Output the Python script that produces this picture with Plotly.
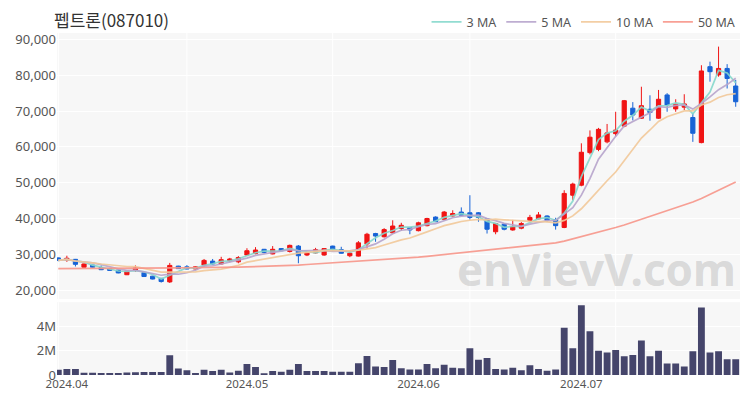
import plotly.graph_objects as go
import pandas as pd

title_text = "펩트론(087010)"

dates = [
    "2024-03-29",
    "2024-04-01", "2024-04-02", "2024-04-03", "2024-04-04", "2024-04-05", "2024-04-08", "2024-04-09",
    "2024-04-11", "2024-04-12", "2024-04-15", "2024-04-16", "2024-04-17", "2024-04-18", "2024-04-19",
    "2024-04-22", "2024-04-23", "2024-04-24", "2024-04-25", "2024-04-26", "2024-04-29", "2024-04-30",
    "2024-05-02", "2024-05-03", "2024-05-07", "2024-05-08", "2024-05-09", "2024-05-10", "2024-05-13",
    "2024-05-14", "2024-05-16", "2024-05-17", "2024-05-20", "2024-05-21", "2024-05-22", "2024-05-23",
    "2024-05-24", "2024-05-27", "2024-05-28", "2024-05-29", "2024-05-30", "2024-05-31",
    "2024-06-03", "2024-06-04", "2024-06-05", "2024-06-07", "2024-06-10", "2024-06-11", "2024-06-12",
    "2024-06-13", "2024-06-14", "2024-06-17", "2024-06-18", "2024-06-19", "2024-06-20", "2024-06-21",
    "2024-06-24", "2024-06-25", "2024-06-26", "2024-06-27", "2024-06-28",
    "2024-07-01", "2024-07-02", "2024-07-03", "2024-07-04", "2024-07-05", "2024-07-08", "2024-07-09",
    "2024-07-10", "2024-07-11", "2024-07-12", "2024-07-15", "2024-07-16", "2024-07-17", "2024-07-18",
    "2024-07-19", "2024-07-22", "2024-07-23", "2024-07-24", "2024-07-25",
]

opens = [29000, 28400, 28600, 26400, 27000, 26300, 26000, 25600, 24300, 25600,
         24900, 23900, 23300, 22300, 26700, 26500, 25900, 27000, 28100, 27300,
         28200, 27900, 29800, 30200, 31400, 30100, 31600, 30800, 32300, 29800,
         30400, 29800, 32300, 31300, 29600, 29500, 32900, 35800, 34900, 36000,
         37200, 37500, 36600, 38000, 40400, 39800, 40700, 41800, 41600, 41600,
         39900, 36300, 38400, 36800, 37300, 39500, 39900, 40700, 39700, 37500,
         46500, 49300, 58400, 59300, 61400, 63700, 65800, 70800, 68000, 70500,
         68000, 74500, 70600, 71100, 68200, 61200, 82400, 80100, 81900, 77000]
highs = [29100, 29600, 28700, 27400, 27100, 26900, 26100, 25700, 25400, 26900,
         25000, 24000, 23400, 27600, 26800, 27000, 26600, 28700, 28700, 29300,
         29000, 29500, 31700, 32000, 31500, 32300, 31700, 32700, 32600, 30700,
         31800, 31700, 32400, 32100, 31000, 33700, 36000, 36000, 37300, 39500,
         38800, 37600, 39100, 40200, 40600, 42100, 42300, 43100, 46500, 41800,
         40000, 38700, 38600, 39600, 39000, 41000, 41800, 40900, 40200, 47900,
         50000, 61000, 64600, 65300, 66400, 69800, 73100, 72500, 76800, 74400,
         75900, 75000, 73300, 74700, 69400, 82800, 83800, 88000, 83100, 78700]
lows = [28100, 27900, 26600, 26300, 26300, 25600, 25400, 24700, 24200, 25100,
        23700, 23000, 22100, 22000, 25900, 25800, 25800, 26600, 27200, 27200,
        27800, 27500, 29600, 30000, 30300, 30000, 30900, 30500, 27500, 29500,
        30200, 29600, 31100, 30200, 29200, 29400, 31600, 33500, 34700, 35900,
        36600, 35600, 36400, 37800, 39000, 39600, 40500, 40700, 39700, 39100,
        35800, 35600, 36700, 36600, 37000, 39000, 39800, 39000, 36900, 37300,
        45100, 49000, 57900, 58800, 61000, 63000, 65500, 67400, 67800, 67300,
        67800, 69800, 69800, 70300, 61400, 61000, 78200, 79600, 76300, 71200]
closes = [28300, 28900, 27200, 27300, 26400, 25700, 25500, 24800, 25300, 26200,
          23800, 23100, 22400, 26900, 26000, 25900, 26500, 28300, 27300, 28500,
          28700, 29100, 31000, 31200, 30500, 31400, 31000, 32500, 29600, 30400,
          31300, 31600, 31200, 30300, 30300, 33200, 35600, 35100, 36900, 37900,
          38100, 36800, 38800, 40000, 39100, 41800, 41400, 40900, 40300, 40300,
          37000, 38600, 37000, 37700, 38600, 40300, 41000, 39500, 38000, 47000,
          49600, 58500, 62700, 64900, 63900, 64700, 72900, 68900, 71500, 69600,
          73300, 71700, 71900, 72000, 63800, 81200, 81000, 81900, 79100, 72600]

volumes_m = [0.43, 0.49, 0.49, 0.18, 0.18, 0.16, 0.16, 0.16, 0.20, 0.22,
             0.24, 0.24, 0.24, 1.62, 0.54, 0.40, 0.16, 0.43, 0.32, 0.43,
             0.20, 0.35, 0.90, 0.65, 0.14, 0.32, 0.27, 0.43, 0.90, 0.32,
             0.32, 0.32, 0.27, 0.27, 0.27, 0.97, 1.57, 0.70, 0.65, 1.24,
             0.55, 0.45, 0.45, 0.90, 0.55, 0.85, 0.60, 0.55, 2.20, 1.25,
             1.40, 0.50, 0.45, 0.60, 0.40, 0.80, 0.50, 0.35, 0.45, 3.90,
             2.20, 5.75, 3.60, 2.00, 1.85, 2.05, 1.55, 1.65, 2.85, 1.55,
             2.00, 0.95, 0.95, 0.70, 1.95, 5.55, 1.85, 1.95, 1.30, 1.30]

ma50 = [26000, 26000, 26000, 26050, 26050, 26050, 26100, 26100, 26100, 26100,
        26100, 26150, 26150, 26200, 26200, 26250, 26250, 26300, 26300, 26350,
        26400, 26450, 26500, 26550, 26600, 26700, 26750, 26850, 27000, 27150,
        27300, 27450, 27600, 27700, 27850, 28000, 28150, 28350, 28500, 28700,
        28900, 29050, 29200, 29450, 29700, 29900, 30100, 30300, 30600, 30850,
        31100, 31300, 31550, 31800, 32000, 32300, 32550, 32800, 33200, 33700,
        34300, 34900, 35500, 36200, 36800, 37500, 38200, 39000, 39700, 40500,
        41300, 42100, 43000, 43800, 44600, 45600, 46700, 47800, 49000, 50200]

month_ticks = ["2024-04-01", "2024-05-02", "2024-06-03", "2024-07-01"]
month_labels = ["2024.04", "2024.05", "2024.06", "2024.07"]
grid_dates = ["2024-03-29", "2024-04-22", "2024-05-20", "2024-06-12", "2024-07-05"]
price_ticks = [20000, 30000, 40000, 50000, 60000, 70000, 80000, 90000]
vol_ticks = [0, 2e6, 4e6]
vol_labels = ["0", "2M", "4M"]

UP = "#f01414"
DOWN = "#1763d6"
VOL = "#45456b"
KFONT = "Noto Sans CJK KR"
LFONT = "Noto Sans"

cs = pd.Series(closes)
ma3 = cs.rolling(3, min_periods=1).mean()
ma5 = cs.rolling(5, min_periods=1).mean()
ma10 = cs.rolling(10, min_periods=1).mean()
volumes = [v * 1e6 for v in volumes_m]

fig = go.Figure()
fig.add_trace(go.Candlestick(
    x=dates, open=opens, high=highs, low=lows, close=closes,
    increasing=dict(line=dict(color=UP, width=1), fillcolor=UP),
    decreasing=dict(line=dict(color=DOWN, width=1), fillcolor=DOWN),
    whiskerwidth=0, showlegend=False, xaxis="x", yaxis="y", hoverinfo="skip"))

for name, vals, col in [("3 MA", ma3, "#86d8cc"), ("5 MA", ma5, "#b7a4cc"),
                        ("10 MA", ma10, "#f2c99a"), ("50 MA", ma50, "#f7968a")]:
    fig.add_trace(go.Scatter(x=dates, y=list(vals), mode="lines", name=name,
                             line=dict(color=col, width=1.7), opacity=0.9,
                             xaxis="x", yaxis="y"))

fig.add_trace(go.Bar(x=dates, y=volumes, marker=dict(color=VOL, line=dict(width=0)),
                     showlegend=False, xaxis="x2", yaxis="y2"))

shapes = []
for d in grid_dates:
    for yr in ["y domain", "y2 domain"]:
        shapes.append(dict(type="line", xref="x", x0=d, x1=d, yref=yr, y0=0, y1=1,
                           line=dict(color="white", width=1), layer="below"))

# the page body keeps its default 8px margin, so the figure is sized to fit inside it
fig.update_layout(
    width=734, height=384,
    margin=dict(l=49, r=2, t=25, b=17, autoexpand=False),
    paper_bgcolor="white", plot_bgcolor="#f7f7f7",
    font=dict(family=LFONT, size=12, color="#555"),
    bargap=0.2,
    shapes=shapes,
    showlegend=True,
    legend=dict(orientation="h", xref="container", yref="container",
                x=0.998, xanchor="right", y=0.963, yanchor="middle",
                font=dict(family=LFONT, size=12.5, color="#555"), itemwidth=30,
                bgcolor="rgba(0,0,0,0)"),
    xaxis=dict(type="category", domain=[0, 1], anchor="y", range=[-0.15, 79.5],
               showticklabels=False, showgrid=False, zeroline=False, automargin=False,
               rangeslider=dict(visible=False)),
    xaxis2=dict(type="category", domain=[0, 1], anchor="y2", matches="x",
                tickvals=month_ticks, ticktext=month_labels, showgrid=False,
                ticks="", automargin=False,
                tickfont=dict(family=LFONT, size=11.5, color="#555"), zeroline=False),
    yaxis=dict(domain=[0.222, 1], range=[17500, 91800], tickvals=price_ticks,
               tickformat=",d", gridcolor="white", gridwidth=1, zeroline=False,
               ticks="", automargin=False,
               tickfont=dict(family=LFONT, size=13, color="#555")),
    yaxis2=dict(domain=[0, 0.213], range=[0, 6.0e6], tickvals=vol_ticks, ticktext=vol_labels,
                gridcolor="white", gridwidth=1, zeroline=False, ticks="", automargin=False,
                tickfont=dict(family=LFONT, size=13, color="#555")),
    annotations=[
        dict(text=title_text, xref="paper", yref="paper", x=-0.008, y=1.04,
             xanchor="left", yanchor="middle", showarrow=False,
             font=dict(family=KFONT, size=17, color="#333")),
        dict(text="enVievV.com", xref="paper", yref="paper", x=0.79, y=0.31,
             xanchor="center", yanchor="middle", showarrow=False,
             font=dict(family=LFONT, size=44, weight="bold", color="rgba(170,170,170,0.4)")),
    ],
)

fig.write_html("out.html")
